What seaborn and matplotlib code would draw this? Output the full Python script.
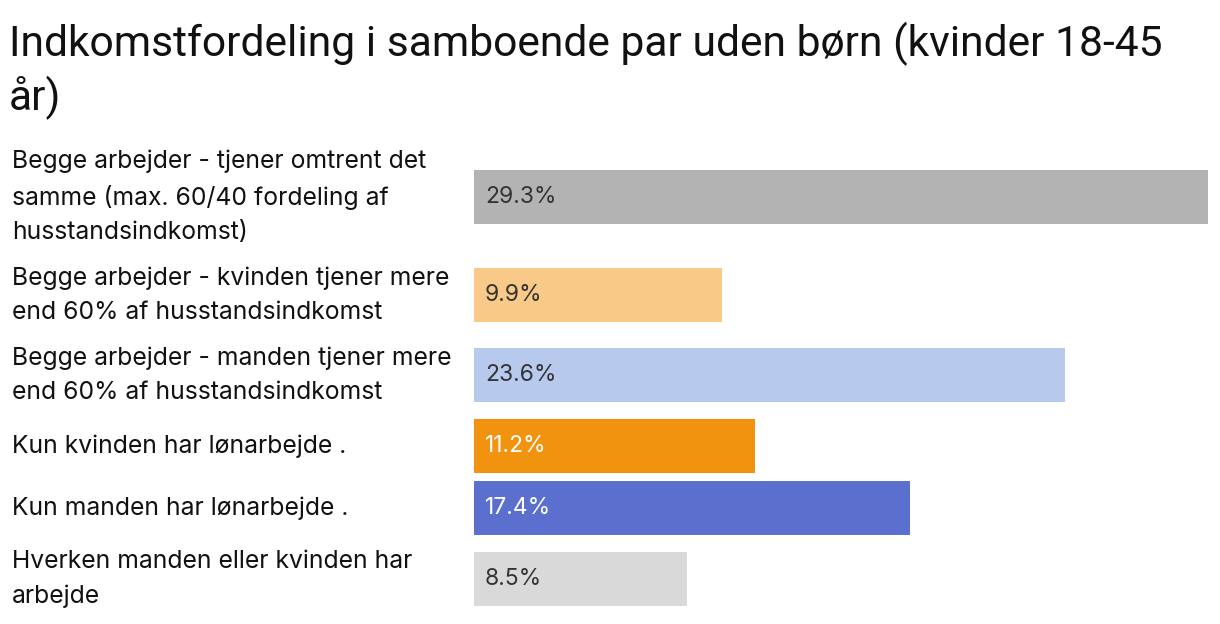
import matplotlib
matplotlib.use("Agg")
import matplotlib.pyplot as plt
import matplotlib.transforms as mtransforms
import seaborn as sns
import pandas as pd

title = "Indkomstfordeling i samboende par uden børn (kvinder 18-45\når)"
categories = [
    "Begge arbejder - tjener omtrent det\nsamme (max. 60/40 fordeling af\nhusstandsindkomst)",
    "Begge arbejder - kvinden tjener mere\nend 60% af husstandsindkomst",
    "Begge arbejder - manden tjener mere\nend 60% af husstandsindkomst",
    "Kun kvinden har lønarbejde .",
    "Kun manden har lønarbejde .",
    "Hverken manden eller kvinden har\narbejde",
]
values = [29.3, 9.9, 23.6, 11.2, 17.4, 8.5]
colors = ["#b3b3b3", "#f8c987", "#b8c9ee", "#f2930f", "#5b6fce", "#d9d9d9"]
text_colors = ["#333333", "#333333", "#333333", "#ffffff", "#ffffff", "#333333"]

W, H = 1220, 624
sns.set_theme(style="white")
plt.rcParams['font.family'] = ['Inter', 'DejaVu Sans']

fig = plt.figure(figsize=(W / 100, H / 100), dpi=100)
fig.patch.set_facecolor("white")

# layout: row heights from number of label lines (pixels)
top = 139
positions = []
y = top
for c in categories:
    n = c.count("\n") + 1
    h = {1: 62, 2: 80, 3: 116}[n]
    positions.append(y + h / 2)
    y += h

ax = fig.add_axes([474 / W, 0, (1208 - 474) / W, 1])
df = pd.DataFrame({"value": values, "pos": positions, "cat": categories})
sns.barplot(data=df, x="value", y="pos", hue="cat", palette=colors,
            orient="h", native_scale=True, width=54 / 62, legend=False,
            ax=ax, saturation=1, linewidth=0)
ax.set_ylim(H, 0)
ax.set_xlim(0, max(values))
ax.axis("off")

off = mtransforms.offset_copy(ax.transData, fig=fig, x=11, y=0, units="dots")
for v, p, tc in zip(values, positions, text_colors):
    ax.text(0, p, f"{v}%", transform=off, ha="left", va="center",
            fontsize=16.5, color=tc)

lab_tr = mtransforms.blended_transform_factory(fig.transFigure, ax.transData)
for c, p in zip(categories, positions):
    fig.text(12 / W, p, c, transform=lab_tr, ha="left", va="center",
             fontsize=17.8, color="#111111", linespacing=1.6)

fig.text(9 / W, 1 - 22 / H, title, ha="left", va="top", fontsize=30.7,
         color="#111111", linespacing=1.3, family=['Roboto', 'DejaVu Sans'])

fig.savefig("out.png", dpi=100)
